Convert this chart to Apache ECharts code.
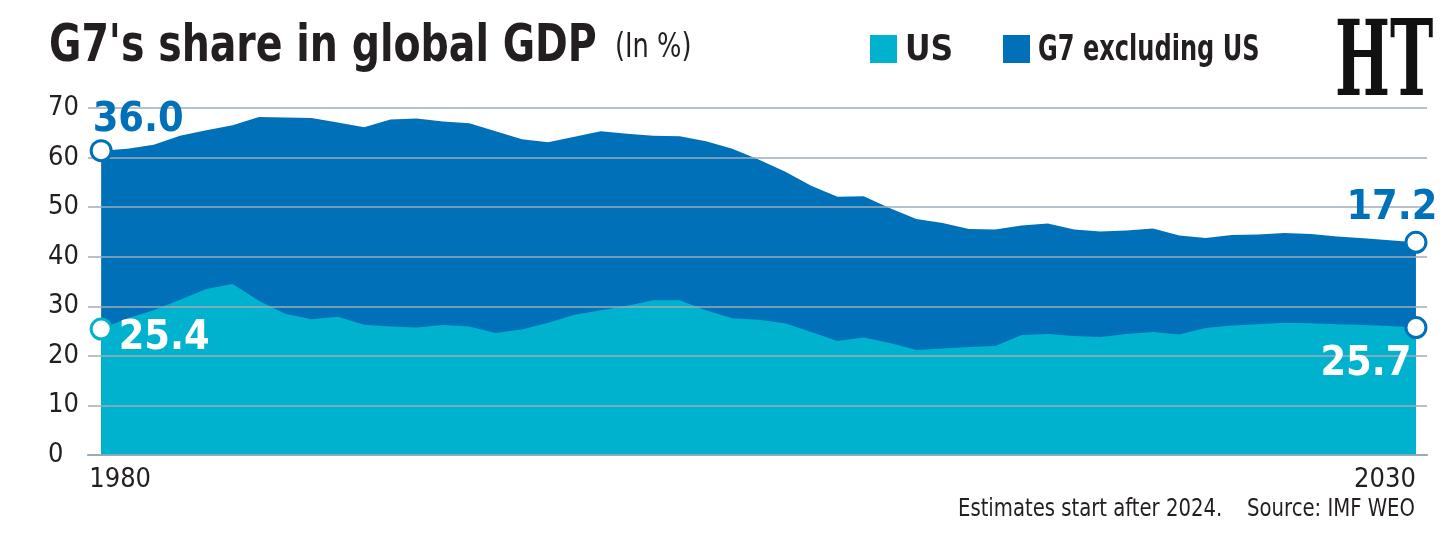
<!DOCTYPE html>
<html>
<head>
<meta charset="utf-8">
<script src="https://cdn.jsdelivr.net/npm/echarts@6/dist/echarts.min.js"></script>
<style>
html,body{margin:0;padding:0;background:#fff;}
#c{width:1448px;height:544px;}
</style>
</head>
<body>
<div id="c"></div>
<script>
const years = [];
for (let y = 1980; y <= 2030; y++) years.push(y);
const usShare = [25.4,27.6,29.2,31.3,33.5,34.5,31.1,28.5,27.4,27.9,26.3,25.9,25.7,26.2,25.9,24.6,25.3,26.7,28.3,29.2,30.1,31.2,31.2,29.2,27.6,27.3,26.6,24.8,23.0,23.7,22.6,21.2,21.5,21.8,22.0,24.2,24.4,24.0,23.8,24.4,24.8,24.3,25.6,26.1,26.4,26.7,26.6,26.4,26.2,26.0,25.7];
const g7ExUsShare = [36.0,34.2,33.4,33.1,32.0,32.0,37.1,39.6,40.6,39.2,39.8,41.8,42.2,41.1,41.0,40.7,38.4,36.4,35.9,36.1,34.7,33.2,33.1,34.1,34.2,32.3,30.6,29.5,29.1,28.5,27.2,26.4,25.3,23.8,23.5,22.1,22.3,21.5,21.3,20.9,20.9,20.0,18.2,18.3,18.1,18.1,18.0,17.7,17.5,17.3,17.2];
const yTicks = [0,10,20,30,40,50,60,70];
const xLabelYears = [1980, 2030];
const seriesNames = ['US', 'G7 excluding US'];
const titleText = "G7's share in global GDP";
const unitText = '(In %)';
const noteText = 'Estimates start after 2024.    Source: IMF WEO';

const CYAN = '#00b2cd';
const BLUE = '#0070b8';
const INK = '#231f20';
const FONT = '"Liberation Sans Narrow","DejaVu Sans Condensed","Roboto",sans-serif';

// US area sits on top of the G7 total area (total = US + rest of G7)
const usData = years.map((y, i) => [y, usShare[i]]);
const totalData = years.map((y, i) => [y, +(usShare[i] + g7ExUsShare[i]).toFixed(1)]);
const last = years.length - 1;

const endLabel = (color, offset) => ({
  show: true, position: 'inside', offset: offset,
  color: color, fontFamily: FONT, fontWeight: 'bold', fontSize: 41,
  formatter: p => p.data.txt
});

const points = [
  {value: totalData[0], txt: g7ExUsShare[0].toFixed(1),
   itemStyle: {borderColor: BLUE}, label: endLabel(BLUE, [37, -30])},
  {value: usData[0], txt: usShare[0].toFixed(1),
   itemStyle: {borderColor: CYAN}, label: endLabel('#fff', [63, 9])},
  {value: totalData[last], txt: g7ExUsShare[last].toFixed(1),
   itemStyle: {borderColor: BLUE}, label: endLabel(BLUE, [-24, -34])},
  {value: usData[last], txt: usShare[last].toFixed(1),
   itemStyle: {borderColor: BLUE}, label: endLabel('#fff', [-50, 37])}
];

const chart = echarts.init(document.getElementById('c'), null, {renderer: 'canvas'});
chart.setOption({
  animation: false,
  backgroundColor: '#fff',
  grid: {left: 88, right: 21, top: 108, bottom: 89},
  graphic: [
    {type: 'text', x: 49, y: 22, scaleX: 0.86, style: {text: titleText, fontFamily: FONT, fontWeight: 'bold', fontSize: 51, fill: INK}},
    {type: 'text', x: 615, y: 31, scaleX: 0.84, style: {text: unitText, fontFamily: FONT, fontSize: 34, fill: INK}},
    {type: 'rect', shape: {x: 870, y: 35, width: 27, height: 28}, style: {fill: CYAN}},
    {type: 'text', x: 905, y: 33, style: {text: seriesNames[0], fontFamily: FONT, fontWeight: 'bold', fontSize: 35, fill: INK}},
    {type: 'rect', shape: {x: 1003, y: 35, width: 27, height: 28}, style: {fill: BLUE}},
    {type: 'text', x: 1038, y: 33, scaleX: 0.765, style: {text: seriesNames[1], fontFamily: FONT, fontWeight: 'bold', fontSize: 35, fill: INK}},
    {type: 'text', x: 1335, y: 16, scaleX: 0.56, style: {text: 'HT', fontFamily: '"DejaVu Serif","Liberation Serif",serif', fontWeight: 'bold', fontSize: 104, fill: '#111'}},
    {type: 'text', x: 1415, y: 498, scaleX: 0.91, style: {text: noteText, align: 'right', fontFamily: FONT, fontSize: 24, fill: INK}}
  ],
  xAxis: {
    type: 'value', min: 1979.5, max: 2030.42,
    axisLine: {show: true, lineStyle: {color: '#8ea3b4', width: 2}},
    axisTick: {show: false},
    splitLine: {show: false},
    axisLabel: {
      customValues: xLabelYears,
      margin: 11,
      fontFamily: FONT, fontSize: 27, color: INK,
      formatter: v => v === 1980 ? '{l|' + v + '}' : '{r|' + v + '}',
      rich: {
        l: {fontFamily: FONT, fontSize: 27, color: INK, padding: [0, 0, 0, 38]},
        r: {fontFamily: FONT, fontSize: 27, color: INK, padding: [0, 62, 0, 0]}
      }
    }
  },
  yAxis: {
    type: 'value', min: 0, max: 70, interval: 10, z: 3,
    axisLine: {show: false}, axisTick: {show: false},
    splitLine: {show: true, lineStyle: {color: '#9eacb9', width: 1.5}},
    axisLabel: {
      align: 'left', margin: 40, padding: [12, 0, 0, 0],
      fontFamily: FONT, fontSize: 27, color: INK,
      formatter: v => yTicks.includes(v) ? String(v) : ''
    }
  },
  series: [
    {
      name: seriesNames[1], type: 'line', data: totalData, z: 1,
      symbol: 'none', lineStyle: {width: 0}, itemStyle: {color: BLUE},
      areaStyle: {color: BLUE, opacity: 1, origin: 'start'}
    },
    {
      name: seriesNames[0], type: 'line', data: usData, z: 2,
      symbol: 'none', lineStyle: {width: 0}, itemStyle: {color: CYAN},
      areaStyle: {color: CYAN, opacity: 1, origin: 'start'}
    },
    {
      name: 'ends', type: 'scatter', z: 5, data: points,
      symbol: 'circle', symbolSize: 20,
      itemStyle: {color: '#fff', borderWidth: 3, opacity: 1}
    }
  ]
});
</script>
</body>
</html>
